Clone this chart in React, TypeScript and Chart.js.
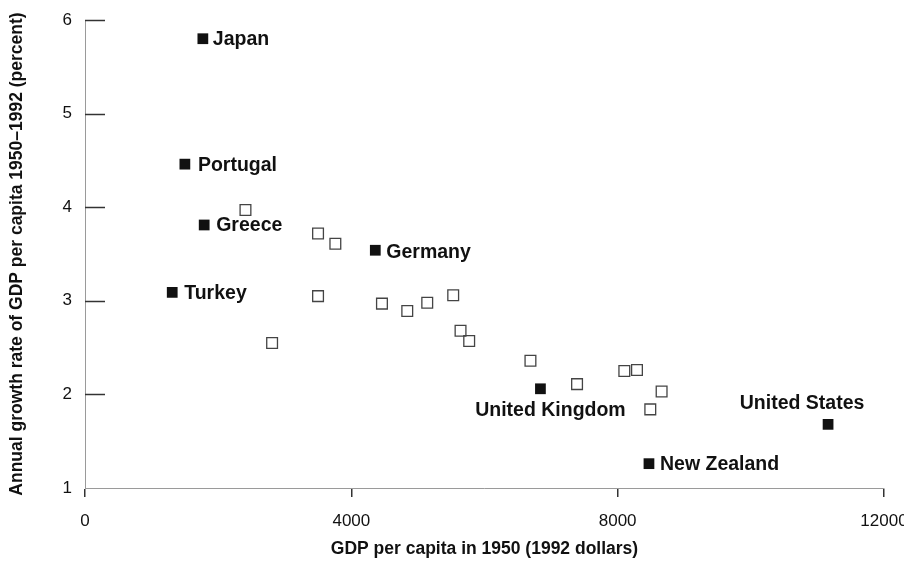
import React, { useEffect, useRef } from 'react';
import { Chart, registerables } from 'chart.js';

Chart.register(...registerables);

// ---- data ----
const namedCountries = ['Japan', 'Portugal', 'Greece', 'Turkey', 'Germany', 'United Kingdom', 'New Zealand', 'United States'];
const namedGdp1950 = [1770, 1500, 1790, 1310, 4360, 6840, 8470, 11160];
const namedGrowth = [5.8, 4.46, 3.81, 3.09, 3.54, 2.06, 1.26, 1.68];

const otherGdp1950 = [2410, 3500, 3760, 3500, 2810, 4460, 4840, 5140, 5530, 5640, 5770, 6690, 7390, 8100, 8290, 8660, 8490];
const otherGrowth = [3.97, 3.72, 3.61, 3.05, 2.55, 2.97, 2.89, 2.98, 3.06, 2.68, 2.57, 2.36, 2.11, 2.25, 2.26, 2.03, 1.84];

const xTicks = [0, 4000, 8000, 12000];
const yTicks = [1, 2, 3, 4, 5, 6];

const xTitle = 'GDP per capita in 1950 (1992 dollars)';
const yTitle = 'Annual growth rate of GDP per capita 1950\u20131992 (percent)';

// ---- label placement (layout only) ----
const labelPlacement: Record<string, { dx: number; dy: number; align: CanvasTextAlign }> = {
  'Japan': { dx: 10, dy: 1, align: 'left' },
  'Portugal': { dx: 13, dy: 1, align: 'left' },
  'Greece': { dx: 12, dy: 1, align: 'left' },
  'Turkey': { dx: 12, dy: 1, align: 'left' },
  'Germany': { dx: 11, dy: 2, align: 'left' },
  'United Kingdom': { dx: 10, dy: 22, align: 'center' },
  'New Zealand': { dx: 11, dy: 1, align: 'left' },
  'United States': { dx: -26, dy: -21, align: 'center' },
};

const FONT = '"Liberation Sans", Arial, Helvetica, sans-serif';

const overlayPlugin = {
  id: 'overlay',
  afterDraw(chart: any) {
    const ctx = chart.ctx as CanvasRenderingContext2D;
    const ys = chart.scales.y;
    const area = chart.chartArea;
    ctx.save();
    // inside tick marks on the y axis
    ctx.strokeStyle = '#333';
    ctx.lineWidth = 1.5;
    ys.ticks.forEach((t: any) => {
      if (t.value <= ys.min) return;
      const py = Math.round(ys.getPixelForValue(t.value)) + 0.5;
      ctx.beginPath();
      ctx.moveTo(area.left, py);
      ctx.lineTo(area.left + 20, py);
      ctx.stroke();
    });
    // country labels
    const meta = chart.getDatasetMeta(1);
    ctx.font = 'bold 19.5px ' + FONT;
    ctx.fillStyle = '#111';
    ctx.textBaseline = 'middle';
    meta.data.forEach((pt: any, i: number) => {
      const name = namedCountries[i];
      const p = labelPlacement[name];
      ctx.textAlign = p.align;
      ctx.fillText(name, pt.x + p.dx, pt.y + p.dy);
    });
    ctx.restore();
  },
};

export default function App() {
  const canvasRef = useRef<HTMLCanvasElement | null>(null);

  useEffect(() => {
    if (!canvasRef.current) return;
    const chart = new Chart(canvasRef.current, {
      type: 'scatter',
      data: {
        datasets: [
          {
            label: 'Other countries',
            data: otherGdp1950.map((x, i) => ({ x, y: otherGrowth[i] })),
            pointStyle: 'rect',
            pointRadius: 7.6,
            pointBackgroundColor: 'rgba(255,255,255,0)',
            pointBorderColor: '#444',
            pointBorderWidth: 1.3,
          },
          {
            label: 'Named countries',
            data: namedGdp1950.map((x, i) => ({ x, y: namedGrowth[i] })),
            pointStyle: 'rect',
            pointRadius: 7.6,
            pointBackgroundColor: '#111',
            pointBorderColor: '#111',
            pointBorderWidth: 0,
          },
        ],
      },
      options: {
        responsive: false,
        animation: false,
        events: [],
        layout: { padding: { left: 0, right: 20, top: 20, bottom: 0 } },
        plugins: {
          legend: { display: false },
          tooltip: { enabled: false },
        },
        scales: {
          x: {
            type: 'linear',
            min: 0,
            max: 12000,
            afterBuildTicks: (scale: any) => {
              scale.ticks = xTicks.map((v) => ({ value: v }));
            },
            afterFit: (scale: any) => {
              scale.height = 74;
              scale.paddingLeft = 0;
              scale.paddingRight = 0;
            },
            grid: {
              display: true,
              drawOnChartArea: false,
              drawTicks: true,
              tickLength: 9,
              tickColor: '#333',
              lineWidth: 1.5,
            },
            border: { display: true, color: '#9a9a9a', width: 1, dash: [2, 2] },
            ticks: {
              padding: 14,
              color: '#111',
              font: { family: FONT, size: 17 },
              maxRotation: 0,
              callback: (v: any) => String(v),
            },
            title: {
              display: true,
              text: xTitle,
              color: '#111',
              font: { family: FONT, size: 17.5, weight: 'bold' },
              padding: { top: 0, bottom: 2 },
            },
          },
          y: {
            type: 'linear',
            min: 1,
            max: 6,
            afterBuildTicks: (scale: any) => {
              scale.ticks = yTicks.map((v) => ({ value: v }));
            },
            afterFit: (scale: any) => {
              scale.width = 85;
              scale.paddingTop = 0;
              scale.paddingBottom = 0;
            },
            grid: { display: false, drawTicks: false },
            border: { display: true, color: '#9a9a9a', width: 1, dash: [2, 2] },
            ticks: {
              padding: 13,
              color: '#111',
              font: { family: FONT, size: 17 },
              callback: (v: any) => String(v),
            },
            title: {
              display: true,
              text: yTitle,
              color: '#111',
              font: { family: FONT, size: 17.5, weight: 'bold' },
              padding: { top: 7, bottom: 0 },
            },
          },
        },
      },
      plugins: [overlayPlugin],
    } as any);
    return () => chart.destroy();
  }, []);

  return (
    <div style={{ position: 'absolute', left: 0, top: 0, width: 904, height: 562, background: '#fff' }}>
      <canvas ref={canvasRef} width={904} height={562} style={{ display: 'block', width: 904, height: 562 }} />
    </div>
  );
}
